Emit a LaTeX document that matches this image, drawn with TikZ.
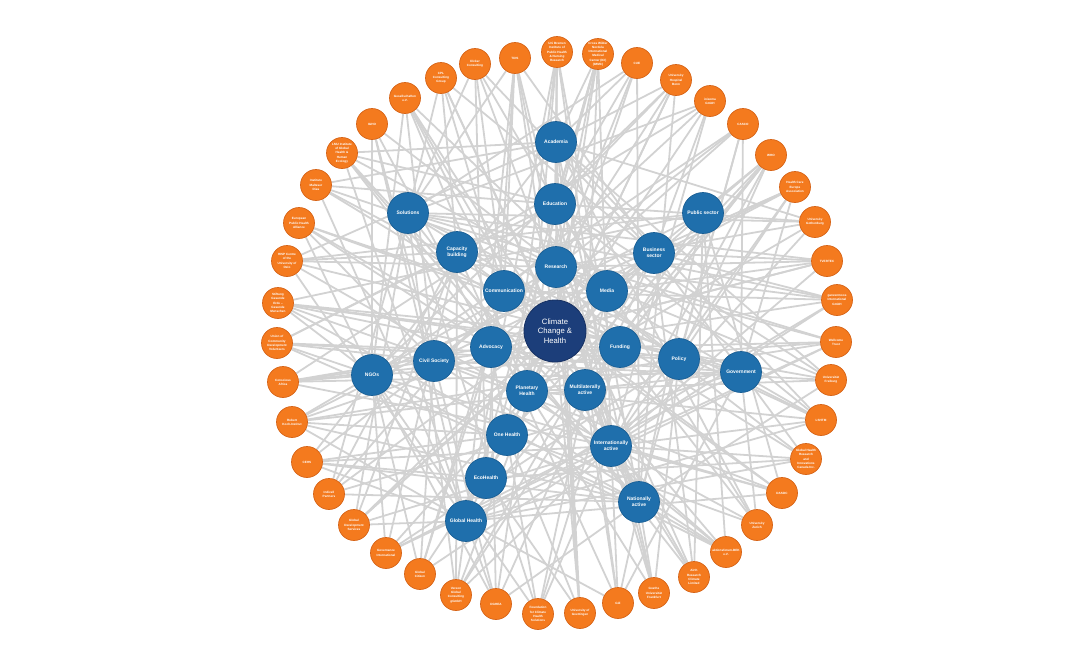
\documentclass[tikz,border=0pt]{standalone}
\usepackage{fontspec}
\setmainfont{Liberation Sans}
\usetikzlibrary{backgrounds}
\pgfdeclarelayer{bg}
\pgfsetlayers{bg,main}
\definecolor{orgfill}{RGB}{244,122,30}
\definecolor{orgline}{RGB}{214,100,24}
\definecolor{catfill}{RGB}{31,111,172}
\definecolor{catline}{RGB}{25,94,148}
\definecolor{hubfill}{RGB}{28,62,122}
\definecolor{hubline}{RGB}{22,48,98}
\definecolor{edgecol}{RGB}{210,210,210}
\tikzset{
  org/.style={circle,fill=orgfill,draw=orgline,line width=0.7pt,minimum size=31pt,inner sep=0pt},
  orgtxt/.style={text=white,font=\bfseries\fontsize{3.1}{4.2}\selectfont,align=center,inner sep=0pt},
  cat/.style={circle,fill=catfill,draw=catline,line width=0.7pt,minimum size=41pt,inner sep=0pt},
  cattxt/.style={text=white,font=\bfseries\fontsize{5}{6}\selectfont,align=center,inner sep=0pt},
  hub/.style={circle,fill=hubfill,draw=hubline,line width=0.8pt,minimum size=62pt,inner sep=0pt},
  hubtxt/.style={text=white,font=\fontsize{7.7}{9.5}\selectfont,align=center,inner sep=0pt},
  edge/.style={draw=edgecol,line width=1.8pt}
}
\newcommand\bubble[4]{\node[#1] (#2) at (#3) {}; \node[#1txt] (#2t) at (#2) {#4};}
\newcommand\links[2]{\foreach \tgt in {#2}{\draw[edge] (#1) -- (\tgt);}}
\begin{document}
\begin{tikzpicture}[x=1pt,y=-1pt]
\useasboundingbox (0,0) rectangle (1090,665);
% category nodes
\bubble{hub}{cch}{555,331}{Climate\\Change \&\\Health}
\bubble{cat}{acad}{556,142}{Academia}
\bubble{cat}{edu}{555,204}{Education}
\bubble{cat}{res}{556,267}{Research}
\bubble{cat}{sol}{408,213}{Solutions}
\bubble{cat}{cap}{457,252}{Capacity\\building}
\bubble{cat}{comm}{504,291}{Communication}
\bubble{cat}{media}{607,291}{Media}
\bubble{cat}{bus}{654,253}{Business\\sector}
\bubble{cat}{pub}{703,213}{Public sector}
\bubble{cat}{adv}{491,347}{Advocacy}
\bubble{cat}{civ}{434,361}{Civil Society}
\bubble{cat}{ngo}{372,375}{NGOs}
\bubble{cat}{fund}{620,347}{Funding}
\bubble{cat}{pol}{679,359}{Policy}
\bubble{cat}{gov}{741,372}{Government}
\bubble{cat}{plan}{527,391}{Planetary\\Health}
\bubble{cat}{multi}{585,390}{Multilaterally\\active}
\bubble{cat}{one}{507,435}{One Health}
\bubble{cat}{intl}{611,446}{Internationally\\active}
\bubble{cat}{eco}{486,478}{EcoHealth}
\bubble{cat}{nat}{639,502}{Nationally\\active}
\bubble{cat}{glob}{466,521}{Global Health}
% organisations
\bubble{org}{o1}{515,58}{TDIS}
\bubble{org}{o2}{557,52}{Uni Bremen\\Institute of\\Public Health\\\& Nursing\\Research}
\bubble{org}{o3}{598,54}{Cross Wilder\\Nordela\\International\\Medical\\Center (ICI)\\(IMMC)}
\bubble{org}{o4}{637,63}{CUE}
\bubble{org}{o5}{676,80}{University\\Hospital\\Bonn}
\bubble{org}{o6}{710,101}{inisoma\\GmbH}
\bubble{org}{o7}{743,124}{CASCO}
\bubble{org}{o8}{771,155}{WHO}
\bubble{org}{o9}{795,187}{Health Care\\Europe\\Association}
\bubble{org}{o10}{815,222}{University\\Gothenburg}
\bubble{org}{o11}{827,261}{TVERTEC}
\bubble{org}{o12}{837,300}{ganzenmoos\\International\\GmbH}
\bubble{org}{o13}{836,342}{Wellcome\\Trust}
\bubble{org}{o14}{831,380}{Universität\\Freiburg}
\bubble{org}{o15}{821,420}{LSHTM}
\bubble{org}{o16}{806,459}{Global Health\\Research\\and\\Innovations\\Canada Inc.}
\bubble{org}{o17}{782,493}{DASDC}
\bubble{org}{o18}{757,525}{University\\Zurich}
\bubble{org}{o19}{726,552}{aktionsforum-BEK\\e.V.}
\bubble{org}{o20}{694,577}{Airth\\Research\\Climate\\Limited}
\bubble{org}{o21}{654,593}{Goethe\\Universität\\Frankfurt}
\bubble{org}{o22}{618,603}{GIZ}
\bubble{org}{o23}{580,613}{University of\\Goettingen}
\bubble{org}{o24}{538,614}{Foundation\\for Climate\\Health\\Solutions}
\bubble{org}{o25}{496,604}{DGHEA}
\bubble{org}{o26}{456,595}{Vereon\\Global\\Consulting\\gGmbH}
\bubble{org}{o27}{420,574}{Global\\Citizen}
\bubble{org}{o28}{386,553}{Governance\\International}
\bubble{org}{o29}{354,525}{Global\\Development\\Services}
\bubble{org}{o30}{329,494}{Indivell\\Partners}
\bubble{org}{o31}{307,462}{CEHS}
\bubble{org}{o32}{292,422}{Robert\\Koch-Institut}
\bubble{org}{o33}{283,382}{Conscious\\Africa}
\bubble{org}{o34}{277,343}{Union of\\Community\\Development\\Volunteers}
\bubble{org}{o35}{278,303}{Stiftung\\Gesunde\\Erde –\\Gesunde\\Menschen}
\bubble{org}{o36}{287,261}{HISP Centre\\of the\\University of\\Oslo}
\bubble{org}{o37}{299,223}{European\\Public Health\\Alliance}
\bubble{org}{o38}{316,185}{Institute\\Malteser\\Dias}
\bubble{org}{o39}{342,153}{LMU Institute\\of Global\\Health \&\\Human\\Ecology}
\bubble{org}{o40}{372,124}{IGHO}
\bubble{org}{o41}{405,98}{Gesellschaften\\e.V.}
\bubble{org}{o42}{441,78}{CPL\\Consulting\\Group}
\bubble{org}{o43}{475,64}{Dicker\\Consulting}
% connectors
\begin{pgfonlayer}{bg}
\links{o1}{bus,res,intl,glob,comm,sol,eco,cch}
\links{o2}{acad,res,edu,plan,glob,intl,nat,one}
\links{o3}{acad,res,glob,intl,edu,multi,cch,eco}
\links{o4}{acad,edu,res,nat,plan,sol}
\links{o5}{acad,res,edu,nat,glob,one,ngo}
\links{o6}{bus,sol,comm,intl,cap,cch}
\links{o7}{ngo,adv,civ,pol,nat,gov}
\links{o8}{pub,pol,multi,glob,intl,one,fund,cch}
\links{o9}{civ,ngo,adv,pol,intl,gov}
\links{o10}{acad,res,edu,intl,plan,sol}
\links{o11}{bus,sol,res,intl,media,adv,cch}
\links{o12}{bus,cap,sol,intl,glob,comm,civ}
\links{o13}{fund,res,glob,intl,plan,ngo,sol}
\links{o14}{acad,res,edu,nat,plan,civ,cch}
\links{o15}{acad,res,edu,glob,intl,plan,cap,sol}
\links{o16}{bus,res,glob,intl,sol,eco}
\links{o17}{ngo,civ,cap,intl,glob,pub,cch}
\links{o18}{acad,res,edu,one,intl,gov}
\links{o19}{ngo,civ,adv,nat,comm,plan,pub}
\links{o20}{bus,res,sol,intl,pub,cch}
\links{o21}{acad,res,edu,nat,plan,pol}
\links{o22}{pub,gov,cap,intl,glob,multi,acad}
\links{o23}{acad,res,edu,one,eco,cch}
\links{o24}{ngo,sol,fund,adv,intl,media}
\links{o25}{civ,ngo,edu,glob,nat,adv,bus}
\links{o26}{bus,cap,sol,glob,intl,pub,cch}
\links{o27}{ngo,adv,civ,media,comm,intl}
\links{o28}{ngo,pol,gov,cap,intl,bus}
\links{o29}{bus,cap,glob,intl,sol,pub,cch}
\links{o30}{bus,comm,sol,cap,nat,gov}
\links{o31}{acad,res,eco,one,glob,nat,intl}
\links{o32}{pub,gov,res,one,nat,glob,pol,cch}
\links{o33}{ngo,civ,adv,edu,intl,gov,fund}
\links{o34}{ngo,civ,cap,edu,nat,gov,pol}
\links{o35}{ngo,fund,plan,adv,nat,pub,pol,cch}
\links{o36}{acad,res,cap,glob,intl,gov,pub}
\links{o37}{ngo,civ,adv,pol,multi,gov}
\links{o38}{acad,res,edu,glob,fund,cch}
\links{o39}{acad,res,edu,glob,plan,intl,nat}
\links{o40}{ngo,civ,glob,adv,pol}
\links{o41}{civ,ngo,comm,nat,plan,media,cch}
\links{o42}{bus,comm,cap,sol,intl,nat}
\links{o43}{bus,comm,sol,media,nat,eco}
\end{pgfonlayer}
\end{tikzpicture}
\end{document}
